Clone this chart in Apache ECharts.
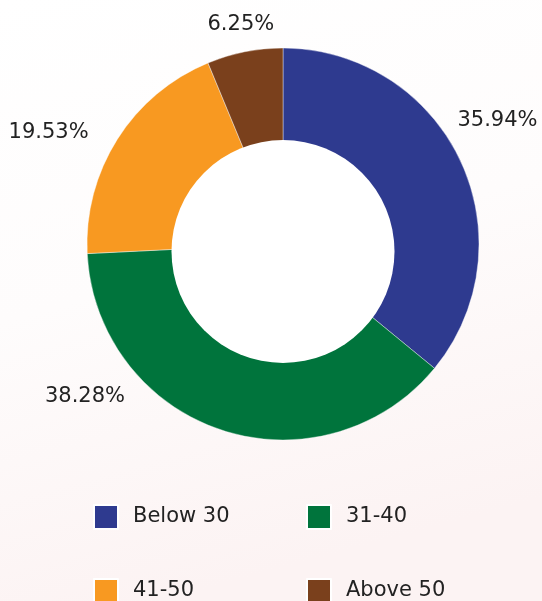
<!DOCTYPE html>
<html>
<head>
<meta charset="utf-8">
<script src="https://cdn.jsdelivr.net/npm/echarts@6/dist/echarts.min.js"></script>
<style>
  html, body { margin: 0; padding: 0; }
  #chart { width: 542px; height: 601px; }
</style>
</head>
<body>
<div id="chart"></div>
<script>
const categories = ['Below 30', '31-40', '41-50', 'Above 50'];
const shares = [35.94, 38.28, 19.53, 6.25];
const colors = ['#2e3a8f', '#00743c', '#f89921', '#7a401c'];

// nudges for the outside labels, they sit a bit off the radial line in the original
const labelNudge = [[-15, -36], [-89, -41], [-17, -2], [36, -19]];

document.addEventListener('DOMContentLoaded', () => {
    const chartDom = document.getElementById('chart');
    const myChart = echarts.init(chartDom);
    const legendText = { fontFamily: 'DejaVu Sans', fontSize: 21, lineHeight: 24, color: '#222', padding: [0, 0, 0, 10] };
    const legendBase = {
        orient: 'vertical', top: 504, height: 200, padding: 0,
        itemWidth: 24, itemHeight: 24, itemGap: 48,
        icon: 'rect', textStyle: legendText
    };
    const option = {
        backgroundColor: {
            type: 'linear', x: 0, y: 0, x2: 0.3, y2: 1,
            colorStops: [{ offset: 0, color: '#ffffff' }, { offset: 0.5, color: '#fefcfc' }, { offset: 1, color: '#fcf3f3' }]
        },
        color: colors,
        legend: [
            Object.assign({}, legendBase, { data: [categories[0], categories[2]], left: 93 }),
            Object.assign({}, legendBase, { data: [categories[1], categories[3]], left: 306 })
        ],
        series: [
            {
                type: 'pie',
                center: [283, 244],
                radius: [0, 196],
                startAngle: 90,
                clockwise: true,
                silent: true,
                itemStyle: { borderColor: '#ffffff', borderWidth: 0.4 },
                label: {
                    show: true,
                    position: 'outside',
                    overflow: 'none',
                    formatter: (p) => p.value.toFixed(2) + '%',
                    fontFamily: 'DejaVu Sans',
                    fontSize: 21,
                    color: '#222'
                },
                labelLine: { show: false, length: 8, length2: 0 },
                labelLayout: (p) => ({ dx: labelNudge[p.dataIndex][0], dy: labelNudge[p.dataIndex][1] }),
                data: categories.map((name, i) => ({ name, value: shares[i] }))
            },
            {
                // white hole, sits a little lower than the ring centre in the original
                type: 'pie',
                center: [283, 251.5],
                radius: [0, 111.5],
                silent: true,
                label: { show: false },
                labelLine: { show: false },
                itemStyle: { color: '#ffffff' },
                data: [{ name: 'hole', value: 1 }]
            }
        ]
    };
    myChart.setOption(option);
    window.addEventListener('resize', () => myChart.resize());
});
</script>
</body>
</html>
